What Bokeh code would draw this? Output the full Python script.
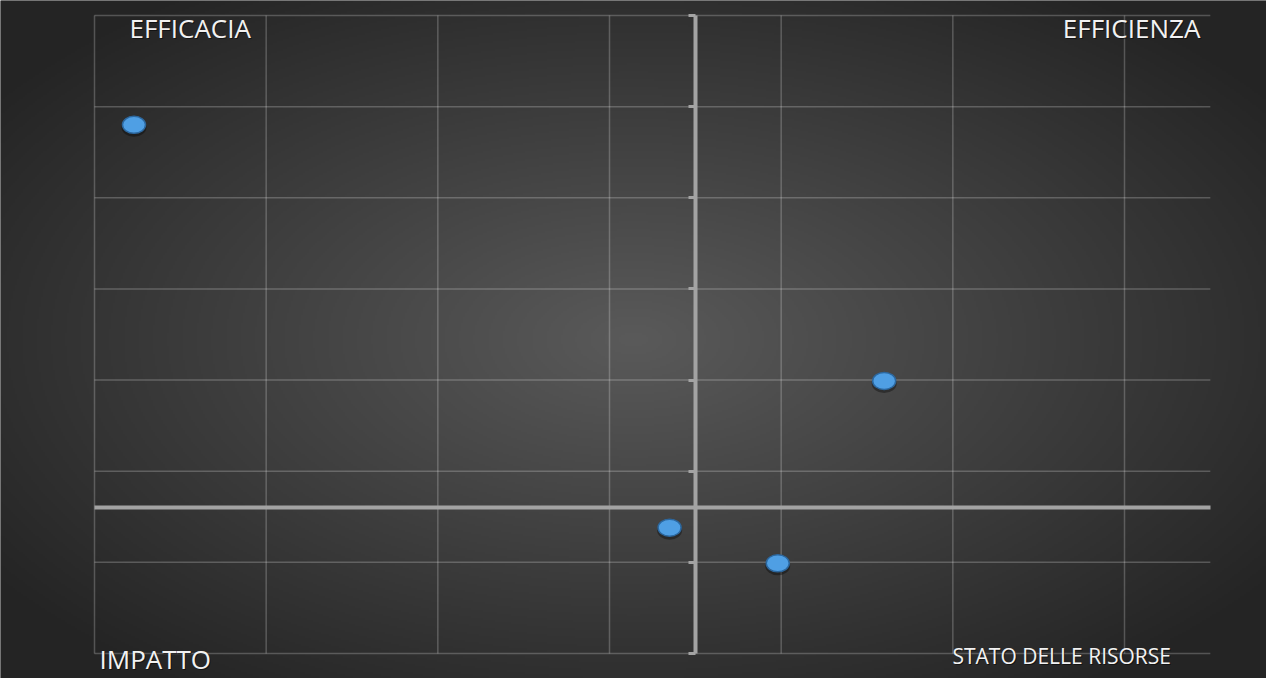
import numpy as np
from bokeh.plotting import figure
from bokeh.models import LinearAxis, FixedTicker, Range1d, Label
from bokeh.embed import file_html
from bokeh.resources import INLINE

# ---- data ----
x_values = [-3.27, 1.10, -0.15, 0.48]
y_values = [4.20, 1.39, -0.22, -0.61]
x_grid = [-3.5, -2.5, -1.5, -0.5, 0.5, 1.5, 2.5]
y_grid = [-1.6, -0.6, 0.4, 1.4, 2.4, 3.4, 4.4, 5.4]
x_min, x_max = -3.5, 3.0
y_min, y_max = -1.6, 5.4
corner_labels = ["EFFICACIA", "EFFICIENZA", "IMPATTO", "STATO DELLE RISORSE"]

# ---- layout ----
W, H = 1266, 678
XU = (1132 - 102) / 6.0      # px per x unit
YU = (661 - 23) / 7.0        # px per y unit
left_off, top_off = 94, 15   # plot area offset inside the canvas
x_start = x_min - left_off / XU
x_end = x_start + W / XU
y_end = y_max + top_off / YU
y_start = y_end - H / YU

p = figure(width=W, height=H, x_range=Range1d(x_start, x_end), y_range=Range1d(y_start, y_end),
           output_backend="svg", toolbar_location=None, min_border=0,
           x_axis_type=None, y_axis_type=None,
           background_fill_color="#262626", border_fill_color="#262626",
           outline_line_color=None)
p.xgrid.visible = False
p.ygrid.visible = False

# radial gradient background
ny, nx = H // 2, W // 2
yy, xx = np.mgrid[0:ny, 0:nx]
px = (xx + 0.5) * 2
py = H - (yy + 0.5) * 2
cx, cy = 633.0, 339.0
r = np.sqrt(((px - cx) / 641.0) ** 2 + ((py - cy) / 347.0) ** 2)
v = np.clip(90 - 44 * r, 36, 90).astype(np.uint8)
img = np.empty((ny, nx), dtype=np.uint32)
view = img.view(dtype=np.uint8).reshape((ny, nx, 4))
view[..., 0] = v
view[..., 1] = v
view[..., 2] = v
view[..., 3] = 255
p.image_rgba(image=[img], x=x_start, y=y_start, dw=x_end - x_start, dh=y_end - y_start)

# gridlines
p.segment(x0=x_grid, y0=[y_min] * len(x_grid), x1=x_grid, y1=[y_max] * len(x_grid),
          line_color="white", line_alpha=0.22, line_width=1.5)
p.segment(x0=[x_min] * len(y_grid), y0=y_grid, x1=[x_max] * len(y_grid), y1=y_grid,
          line_color="white", line_alpha=0.22, line_width=1.5)

# axes crossing at 0
ax_col = "#a3a3a3"
yax = LinearAxis(fixed_location=0, ticker=FixedTicker(ticks=y_grid), bounds=(y_min, y_max),
                 axis_line_color=ax_col, axis_line_width=4,
                 major_tick_line_color=ax_col, major_tick_line_width=3,
                 major_tick_out=7, major_tick_in=0, minor_tick_out=0, minor_tick_in=0,
                 major_label_text_font_size="0px",
                 major_label_overrides={t: "" for t in y_grid})
p.add_layout(yax, "left")
xax = LinearAxis(fixed_location=0, ticker=FixedTicker(ticks=[]), bounds=(x_min, x_max),
                 axis_line_color=ax_col, axis_line_width=4,
                 major_tick_out=0, major_tick_in=0, minor_tick_out=0, minor_tick_in=0,
                 major_label_text_font_size="0px")
p.add_layout(xax, "below")

# markers (shadow + marker)
p.ellipse(x=x_values, y=[yv - 2.5 / YU for yv in y_values], width=25, height=19,
          width_units="screen", height_units="screen",
          fill_color="black", fill_alpha=0.35, line_color=None)
p.ellipse(x=x_values, y=y_values, width=23, height=17,
          width_units="screen", height_units="screen",
          fill_color="#4f9fe4", line_color="#2c679e", line_width=1.5)

# corner labels
lab_x = [x_min + 35 / XU, x_max - 10 / XU, x_min + 5 / XU, x_min + 858 / XU]
lab_y = [y_max - 12 / YU, y_max - 12 / YU, y_min - 5 / YU, y_min - 2 / YU]
lab_align = ["left", "right", "left", "left"]
lab_size = ["26px", "26px", "26px", "21px"]
for t, lx, ly, al, sz in zip(corner_labels, lab_x, lab_y, lab_align, lab_size):
    p.add_layout(Label(x=lx, y=ly, text=t, text_font="Open Sans", text_font_size=sz,
                       text_color="black", text_alpha=0.5, text_align=al,
                       text_baseline="alphabetic", x_offset=1, y_offset=-1.5))
    p.add_layout(Label(x=lx, y=ly, text=t, text_font="Open Sans", text_font_size=sz,
                       text_color="#f2f2f2", text_align=al, text_baseline="alphabetic"))

open("out.html", "w").write(file_html(p, INLINE))
